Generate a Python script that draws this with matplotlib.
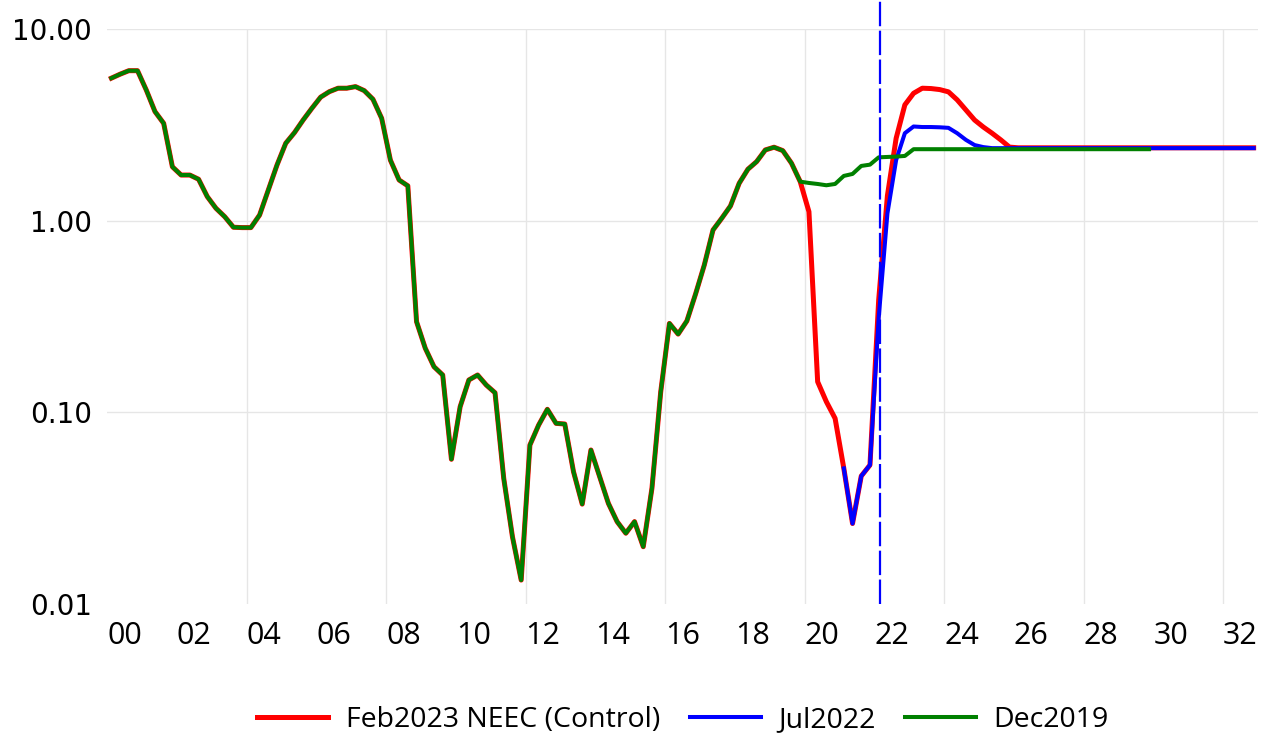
import numpy as np
import matplotlib
matplotlib.use("Agg")
import matplotlib.pyplot as plt
from matplotlib.ticker import FixedLocator, NullLocator

# quarterly history 2000Q1 .. 2019Q4 (shared by all scenarios)
hist = [5.54, 5.81, 6.06, 6.06, 4.81, 3.71, 3.22, 1.91, 1.73, 1.73,
        1.645, 1.335, 1.16, 1.049, 0.924, 0.92, 0.92, 1.07, 1.446, 1.953,
        2.535, 2.88, 3.354, 3.86, 4.41, 4.71, 4.91, 4.91, 5.005, 4.77,
        4.30, 3.42, 2.07, 1.63, 1.52, 0.297, 0.216, 0.173, 0.1566, 0.0569,
        0.107, 0.1475, 0.1566, 0.1388, 0.1265, 0.0452, 0.0224, 0.01333, 0.0675, 0.0858,
        0.1037, 0.0876, 0.0869, 0.049, 0.0332, 0.0636, 0.0461, 0.0335, 0.0269, 0.0234,
        0.0269, 0.0199, 0.0403, 0.1276, 0.291, 0.256, 0.2996, 0.4145, 0.587, 0.894,
        1.029, 1.193, 1.567, 1.855, 2.032, 2.339, 2.416, 2.32, 1.994, 1.598]

# Feb2023 NEEC (Control), 2020Q1 .. 2032Q4
feb2023_tail = [1.114, 0.1444, 0.1136, 0.093, 0.051, 0.0263, 0.0465, 0.0531, 0.386, 1.35,
                2.69, 4.02, 4.62, 4.91, 4.89, 4.83, 4.70, 4.27, 3.78, 3.35,
                3.08, 2.86, 2.64, 2.42] + [2.40] * 28

# Jul2022, 2021Q1 .. 2032Q4
jul2022_tail = [0.051, 0.0263, 0.0465, 0.0531, 0.311, 1.09, 2.07, 2.86, 3.10, 3.08,
                3.08, 3.07, 3.05, 2.86, 2.64, 2.48, 2.42] + [2.39] * 31

# Dec2019, 2020Q1 .. 2029Q4
dec2019_tail = [1.573, 1.554, 1.530, 1.554, 1.712, 1.753, 1.93, 1.96, 2.14, 2.15,
                2.16, 2.176] + [2.36] * 28

feb2023 = np.array(hist + feb2023_tail)
jul2022 = np.array([np.nan] * 84 + jul2022_tail)
dec2019 = np.array(hist + dec2019_tail)

cutoff = 22.15  # forecast start marker
tick_years = list(range(0, 33, 2))
tick_labels = ["%02d" % y for y in tick_years]

def qpos(n):
    # mid-quarter position in years since 2000
    return np.arange(n) / 4 + 0.125

fig = plt.figure(figsize=(12.7, 7.38), dpi=100)
ax = fig.add_axes([107 / 1270, 1 - 604 / 738, 1151 / 1270, 575 / 738])

ax.plot(qpos(len(feb2023)), feb2023, color="#ff0000", lw=3.6, label="Feb2023 NEEC (Control)",
        solid_joinstyle="round", zorder=3)
ax.plot(qpos(len(jul2022)), jul2022, color="#0000ff", lw=2.9, label="Jul2022",
        solid_joinstyle="round", zorder=4)
ax.plot(qpos(len(dec2019)), dec2019, color="#008000", lw=2.9, label="Dec2019",
        solid_joinstyle="round", zorder=5)

ax.plot([cutoff, cutoff], [0, 1.05], transform=ax.get_xaxis_transform(), color="#0000ff",
        lw=1.6, dashes=(11, 2), clip_on=False, zorder=6)

ax.set_yscale("log")
ax.set_ylim(0.01, 10)
ax.set_xlim(0, 33)
ax.yaxis.set_major_locator(FixedLocator([0.01, 0.1, 1, 10]))
ax.yaxis.set_minor_locator(NullLocator())
ax.set_yticklabels(["0.01", "0.10", "1.00", "10.00"])
ax.set_xticks([y + 0.5 for y in tick_years])
ax.set_xticklabels(tick_labels)

for y in [0.1, 1, 10]:
    ax.axhline(y, color="#e6e6e6", lw=1, zorder=0)
for x in range(4, 33, 4):
    ax.axvline(x, color="#e6e6e6", lw=1, zorder=0)

for s in ax.spines.values():
    s.set_visible(False)
ax.tick_params(axis="both", length=0)
ax.tick_params(axis="y", pad=11, labelsize=20)
ax.tick_params(axis="x", pad=12, labelsize=22)
for lab in ax.get_yticklabels():
    lab.set_fontfamily("DejaVu Sans")
for lab in ax.get_xticklabels():
    lab.set_fontfamily(["Open Sans", "DejaVu Sans"])

fig.legend(loc="center", bbox_to_anchor=(683 / 1270, 1 - 720 / 738), ncol=3, frameon=False,
           prop={"family": ["Open Sans", "DejaVu Sans"], "size": 20.5},
           handlelength=2.5, handletextpad=0.6, columnspacing=1.05)

fig.savefig("out.png", dpi=100)
